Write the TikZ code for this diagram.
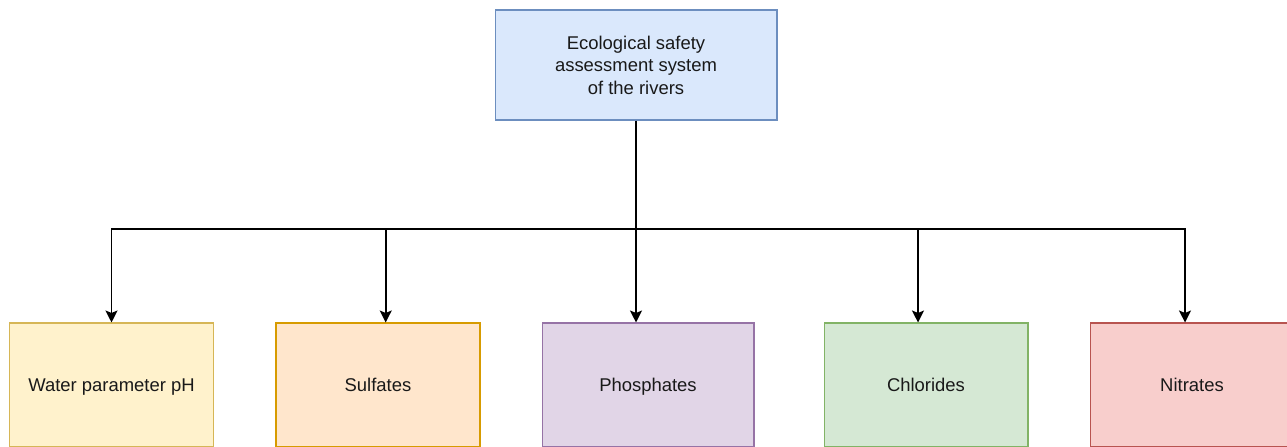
\documentclass[tikz,border=0pt]{standalone}
\usepackage{fontspec}
\setmainfont{Liberation Sans}
\usepackage{xcolor}
\usetikzlibrary{positioning, arrows.meta}

\definecolor{blueFill}{HTML}{DAE8FC}
\definecolor{blueLine}{HTML}{6C8EBF}
\definecolor{yellowFill}{HTML}{FFF2CC}
\definecolor{yellowLine}{HTML}{D6B656}
\definecolor{orangeFill}{HTML}{FFE6CC}
\definecolor{orangeLine}{HTML}{D79B00}
\definecolor{purpleFill}{HTML}{E1D5E7}
\definecolor{purpleLine}{HTML}{9673A6}
\definecolor{greenFill}{HTML}{D5E8D4}
\definecolor{greenLine}{HTML}{82B366}
\definecolor{redFill}{HTML}{F8CECC}
\definecolor{redLine}{HTML}{B85450}

\begin{document}
\begin{tikzpicture}[
    x=0.02cm, y=0.02cm,
    box/.style={draw, rectangle, line width=0.6pt, inner sep=0pt,
        minimum width=4.08cm, minimum height=2.48cm, text=black!90,
        font=\fontsize{10.5}{12.8}\selectfont, align=center},
    leaf/.style={box, text height=9.8pt, text depth=2.2pt},
    link/.style={line width=1pt},
    arr/.style={link, -{Stealth[length=6.8pt, width=6.8pt, inset=1.4pt]}},
]
\useasboundingbox (0,0) rectangle (1287,446);

\node[box, fill=blueFill, draw=blueLine, minimum width=5.64cm, minimum height=2.2cm]
    (sys) at (636,381) {Ecological safety\\assessment system\\of the rivers};

\node[leaf, fill=yellowFill, draw=yellowLine] (ph) at (111.5,61) {Water parameter pH};
\node[leaf, fill=orangeFill, draw=orangeLine] (sulf) at (378,61) {Sulfates};
\node[leaf, fill=purpleFill, draw=purpleLine, minimum width=4.24cm] (phos) at (648,61) {Phosphates};
\node[leaf, fill=greenFill, draw=greenLine] (chlor) at (926,61) {Chlorides};
\node[leaf, fill=redFill, draw=redLine] (nitr) at (1192,61) {Nitrates};

\coordinate (bus) at (636,216.7);

\draw[link] (sys.south) -- (bus);
\draw[arr] (bus) -| (ph.north);
\draw[arr] (bus) -| ([xshift=7.7*0.02cm]sulf.north);
\draw[arr] (bus) -- ([xshift=-12*0.02cm]phos.north);
\draw[arr] (bus) -| ([xshift=-8*0.02cm]chlor.north);
\draw[arr] (bus) -| ([xshift=-7*0.02cm]nitr.north);
\end{tikzpicture}
\end{document}
